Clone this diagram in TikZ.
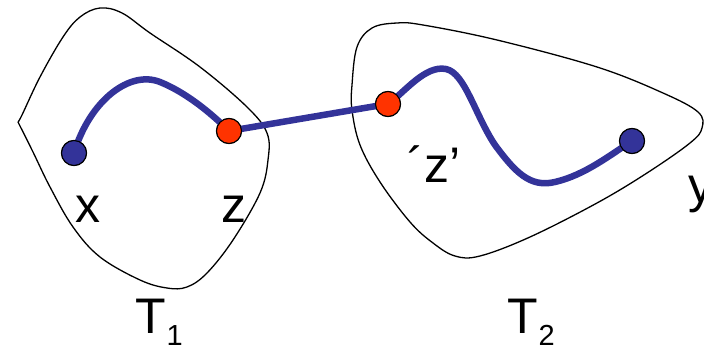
\documentclass[tikz,border=0pt]{standalone}
\usepackage{fontspec}
\setmainfont{Liberation Sans}
\definecolor{pathblue}{RGB}{51,51,153}
\definecolor{dotred}{RGB}{255,51,0}
\tikzset{
  region/.style={draw=black, line width=1.3pt},
  route/.style={draw=pathblue, line width=6.5pt, line cap=round},
  bluedot/.style={circle, draw=black, line width=1.1pt, fill=pathblue, minimum size=25pt, inner sep=0pt},
  reddot/.style={circle, draw=black, line width=1.1pt, fill=dotred, minimum size=25pt, inner sep=0pt},
  lbl/.style={anchor=base, inner sep=0pt, font=\fontsize{50}{60}\selectfont},
  sub/.style={anchor=base west, inner sep=0pt, font=\fontsize{29}{34}\selectfont}
}
\begin{document}
\begin{tikzpicture}[x=1pt,y=-1pt]
\useasboundingbox (0,0) rectangle (704,347);
% region T1 (with a small cusp at the left)
\draw[region, line join=miter] plot[smooth, tension=0.6] coordinates {
 (18,122) (22,115) (40,77) (63,37) (80,17) (100,8) (122,13) (150,33) (200,67) (247,107)
 (267,133) (268,160) (260,193) (233,240) (207,273) (187,287) (167,288) (140,280)
 (100,257) (73,227) (50,187) (33,152) (18,122)};
% region T2
\draw[region] plot[smooth cycle, tension=0.6] coordinates {
 (352,85) (357,47) (372,28) (397,23) (423,25) (497,40) (597,67) (663,93) (698,112)
 (702,128) (690,143) (647,173) (597,203) (530,237) (480,256) (455,256) (433,243)
 (410,222) (380,182) (360,145) (352,110)};
% dots
\node[bluedot] (x) at (74,153) {};
\node[reddot] (z) at (229,131) {};
\node[reddot] (zp) at (388,104) {};
\node[bluedot] (y) at (632,141) {};
% routes
\draw[route] (x.center) .. controls (90,100) and (130,70) .. (160,82)
   .. controls (185,92) and (210,112) .. (z.center);
\draw[route] (z.center) -- (zp.center);
\draw[route] (zp.center) .. controls (405,92) and (425,65) .. (446,69)
   .. controls (465,73) and (475,115) .. (495,145)
   .. controls (515,172) and (530,188) .. (555,182)
   .. controls (585,175) and (610,155) .. (y.center);
% redraw dots on top
\node[bluedot] at (x) {};
\node[reddot] at (z) {};
\node[reddot] at (zp) {};
\node[bluedot] at (y) {};
% labels
\node[lbl] (lx) at (88,223) {x};
\node[lbl] (lz) at (234,223) {z};
\node[lbl] (lzp) at (434,183) {´z’};
\node[lbl, anchor=base west] (ly) at (688,203) {y};
\node[lbl] (lt1) at (151,333) {T};
\node[sub] (s1) at (lt1.base east) [yshift=-12pt] {1};
\node[lbl] (lt2) at (523,333) {T};
\node[sub] (s2) at (lt2.base east) [yshift=-12pt] {2};
\end{tikzpicture}
\end{document}
